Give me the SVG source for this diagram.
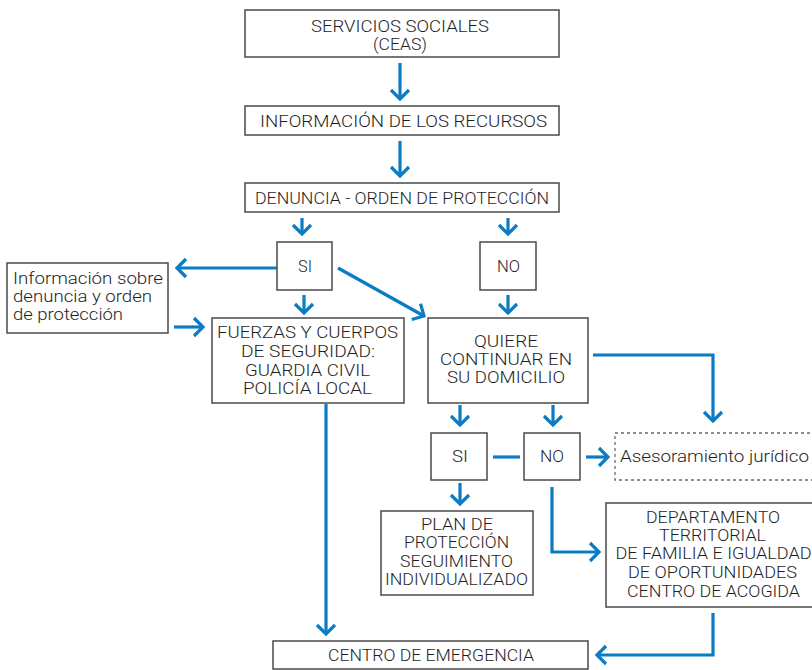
<svg xmlns="http://www.w3.org/2000/svg" width="812" height="670" viewBox="0 0 812 670">
<defs>
<marker id="ah" markerUnits="userSpaceOnUse" markerWidth="24" markerHeight="24" viewBox="-12 -12 24 24" refX="0" refY="0" orient="auto">
<path d="M-9,-9 L0,0 L-9,9" fill="none" stroke="#0a7cc4" stroke-width="3.2" stroke-linecap="butt" stroke-linejoin="miter"/>
</marker>
</defs>
<style>
.box{fill:#fff;stroke:#4a4a4a;stroke-width:1.5}
.dash{fill:#fff;stroke:#6a6a6a;stroke-width:1.3;stroke-dasharray:3 3}
text{font-family:Roboto,"Liberation Sans",sans-serif;font-size:16px;font-weight:300;fill:#1e1e1e;text-anchor:middle}
.tl{text-anchor:start}
.c{fill:none;stroke:#0a7cc4;stroke-width:3.2}
.a{fill:none;stroke:#0a7cc4;stroke-width:3.2;marker-end:url(#ah)}
</style>
<rect width="812" height="670" fill="#fff"/>
<g id="connectors">
<path class="a" d="M400,63 V99"/>
<path class="a" d="M400,141 V176"/>
<path class="a" d="M302,218 V234"/>
<path class="a" d="M508,218 V234"/>
<path class="a" d="M277,268 H177"/>
<path class="a" d="M304,295 V313"/>
<path class="a" d="M338,268 L424,316"/>
<path class="a" d="M508,295 V313"/>
<path class="a" d="M174,327 H203"/>
<path class="a" d="M326,404 V634"/>
<path class="a" d="M593,355 H713 V421"/>
<path class="a" d="M460,405 V425"/>
<path class="a" d="M553,405 V425"/>
<path class="c" d="M493,457 H520" stroke-width="4.5"/>
<path class="a" d="M586,457 H608"/>
<path class="a" d="M460,483 V504"/>
<path class="a" d="M552,487 V552 H599"/>
<path class="a" d="M713,613 V655 H597"/>
</g>
<g id="n-servicios"><rect class="box" x="245" y="10" width="314" height="47"/><text x="400" y="32" textLength="178" lengthAdjust="spacingAndGlyphs">SERVICIOS SOCIALES</text><text x="400" y="50" textLength="54" lengthAdjust="spacingAndGlyphs">(CEAS)</text></g>
<g id="n-informacion"><rect class="box" x="245" y="106" width="314" height="29"/><text x="403.5" y="127" textLength="287" lengthAdjust="spacingAndGlyphs">INFORMACIÓN DE LOS RECURSOS</text></g>
<g id="n-denuncia"><rect class="box" x="245" y="183" width="314" height="29"/><text x="402" y="204" textLength="294" lengthAdjust="spacingAndGlyphs">DENUNCIA - ORDEN DE PROTECCIÓN</text></g>
<g id="n-si1"><rect class="box" x="277" y="242" width="55" height="48"/><text x="305" y="272" textLength="14" lengthAdjust="spacingAndGlyphs">SI</text></g>
<g id="n-no1"><rect class="box" x="480" y="242" width="56" height="48"/><text x="508.5" y="272" textLength="23" lengthAdjust="spacingAndGlyphs">NO</text></g>
<g id="n-info-denuncia"><rect class="box" x="7" y="263" width="161" height="70"/><text class="tl" x="13" y="284" textLength="150" lengthAdjust="spacingAndGlyphs">Información sobre</text><text class="tl" x="13" y="302" textLength="139" lengthAdjust="spacingAndGlyphs">denuncia y orden</text><text class="tl" x="13" y="320" textLength="110" lengthAdjust="spacingAndGlyphs">de protección</text></g>
<g id="n-fuerzas"><rect class="box" x="212" y="318" width="192" height="85"/><text x="307.5" y="338" textLength="181" lengthAdjust="spacingAndGlyphs">FUERZAS Y CUERPOS</text><text x="308" y="357" textLength="134" lengthAdjust="spacingAndGlyphs">DE SEGURIDAD:</text><text x="307.5" y="376" textLength="125" lengthAdjust="spacingAndGlyphs">GUARDIA CIVIL</text><text x="307.5" y="394" textLength="129" lengthAdjust="spacingAndGlyphs">POLICÍA LOCAL</text></g>
<g id="n-quiere"><rect class="box" x="428" y="318" width="160" height="85"/><text x="506" y="347" textLength="64" lengthAdjust="spacingAndGlyphs">QUIERE</text><text x="506" y="365" textLength="132" lengthAdjust="spacingAndGlyphs">CONTINUAR EN</text><text x="506" y="383" textLength="118" lengthAdjust="spacingAndGlyphs">SU DOMICILIO</text></g>
<g id="n-si2"><rect class="box" x="431" y="433" width="56" height="47"/><text x="460" y="462" textLength="16" lengthAdjust="spacingAndGlyphs">SI</text></g>
<g id="n-no2"><rect class="box" x="524" y="433" width="56" height="47"/><text x="552" y="462" textLength="24" lengthAdjust="spacingAndGlyphs">NO</text></g>
<g id="n-asesoramiento"><rect class="dash" x="615" y="433" width="205" height="47"/><text class="tl" x="620" y="462" textLength="189" lengthAdjust="spacingAndGlyphs">Asesoramiento jurídico</text></g>
<g id="n-plan"><rect class="box" x="381" y="511" width="152" height="84"/><text x="457" y="530" textLength="72" lengthAdjust="spacingAndGlyphs">PLAN DE</text><text x="456.5" y="548" textLength="105" lengthAdjust="spacingAndGlyphs">PROTECCIÓN</text><text x="456.5" y="567" textLength="113" lengthAdjust="spacingAndGlyphs">SEGUIMIENTO</text><text x="456.5" y="585" textLength="143" lengthAdjust="spacingAndGlyphs">INDIVIDUALIZADO</text></g>
<g id="n-departamento"><rect class="box" x="606" y="503" width="210" height="104"/><text x="713" y="523" textLength="134" lengthAdjust="spacingAndGlyphs">DEPARTAMENTO</text><text x="712.5" y="541" textLength="107" lengthAdjust="spacingAndGlyphs">TERRITORIAL</text><text x="713.5" y="559" textLength="196" lengthAdjust="spacingAndGlyphs">DE FAMILIA E IGUALDAD</text><text x="712.5" y="578" textLength="169" lengthAdjust="spacingAndGlyphs">DE OPORTUNIDADES</text><text x="713.5" y="597" textLength="173" lengthAdjust="spacingAndGlyphs">CENTRO DE ACOGIDA</text></g>
<g id="n-emergencia"><rect class="box" x="273" y="641" width="315" height="28"/><text x="431" y="661" textLength="206" lengthAdjust="spacingAndGlyphs">CENTRO DE EMERGENCIA</text></g>
</svg>
